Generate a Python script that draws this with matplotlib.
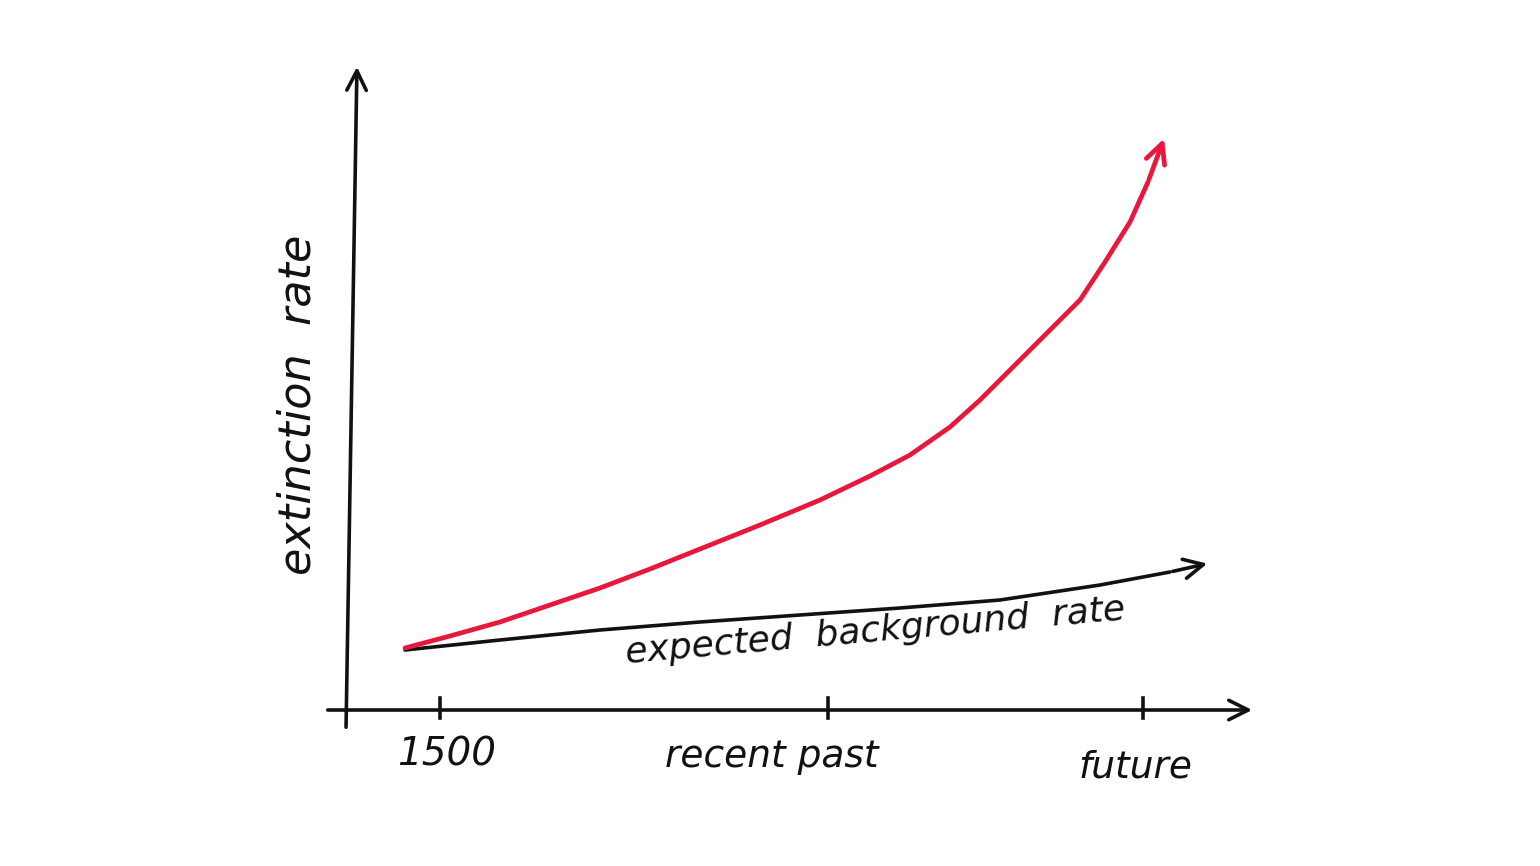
import numpy as np
import matplotlib.pyplot as plt

# positions in sketch units (x: time, y: extinction rate)
tick_pos = [0.9, 4.78, 7.93]
tick_labels = ['1500', 'recent past', 'future']

red_x = [0.55, 1.0, 1.5, 2.0, 2.5, 3.0, 3.5, 4.1, 4.7, 5.2, 5.6, 6.0, 6.3,
         6.6, 6.95, 7.3, 7.55, 7.8, 7.98, 8.15]
red_y = [0.62, 0.74, 0.88, 1.05, 1.22, 1.41, 1.61, 1.85, 2.10, 2.34, 2.55,
         2.83, 3.10, 3.40, 3.75, 4.10, 4.48, 4.88, 5.28, 5.74]

bg_x = [0.55, 1.5, 2.5, 3.5, 4.5, 5.5, 6.5, 7.5, 8.2, 8.6]
bg_y = [0.60, 0.70, 0.80, 0.88, 0.95, 1.02, 1.10, 1.25, 1.38, 1.47]

fig = plt.figure(figsize=(15.4, 8.66), dpi=100)
ax = fig.add_axes([0, 0, 1, 1])
ax.set_xlim(-3.5, 11.9)
ax.set_ylim(-1.56, 7.1)
ax.axis('off')

ink = '#111111'

# axes arrows
ax.annotate('', xy=(0.07, 6.46), xytext=(-0.04, -0.2),
            arrowprops=dict(arrowstyle='->', lw=2.6, color=ink, mutation_scale=35))
ax.annotate('', xy=(9.05, 0.0), xytext=(-0.25, 0.0),
            arrowprops=dict(arrowstyle='->', lw=2.6, color=ink, mutation_scale=35))

for p in tick_pos:
    ax.plot([p, p], [-0.08, 0.12], color=ink, lw=2.6)

ax.text(0.97, -0.45, tick_labels[0], fontsize=28, ha='center', va='center',
        style='italic', color=ink)
ax.text(4.22, -0.47, tick_labels[1], fontsize=27, ha='center', va='center',
        style='italic', color=ink)
ax.text(7.85, -0.58, tick_labels[2], fontsize=27, ha='center', va='center',
        style='italic', color=ink)

ax.text(-0.52, 3.05, 'extinction  rate', fontsize=32, rotation=90,
        ha='center', va='center', style='italic', color=ink)

# background rate
ax.plot(bg_x[:-1], bg_y[:-1], color=ink, lw=2.6, solid_capstyle='round')
ax.annotate('', xy=(bg_x[-1], bg_y[-1]), xytext=(bg_x[-2], bg_y[-2]),
            arrowprops=dict(arrowstyle='->', lw=2.6, color=ink, mutation_scale=35))
ax.text(5.25, 0.79, 'expected  background  rate', fontsize=26, rotation=5,
        ha='center', va='center', style='italic', color=ink)

# extinction rate curve
red = '#e8173c'
ax.plot(red_x[:-1], red_y[:-1], color=red, lw=3.4, solid_capstyle='round',
        solid_joinstyle='round')
ax.annotate('', xy=(red_x[-1], red_y[-1]), xytext=(red_x[-2], red_y[-2]),
            arrowprops=dict(arrowstyle='->', lw=3.4, color=red, mutation_scale=35))

fig.savefig('out.png', dpi=100)
